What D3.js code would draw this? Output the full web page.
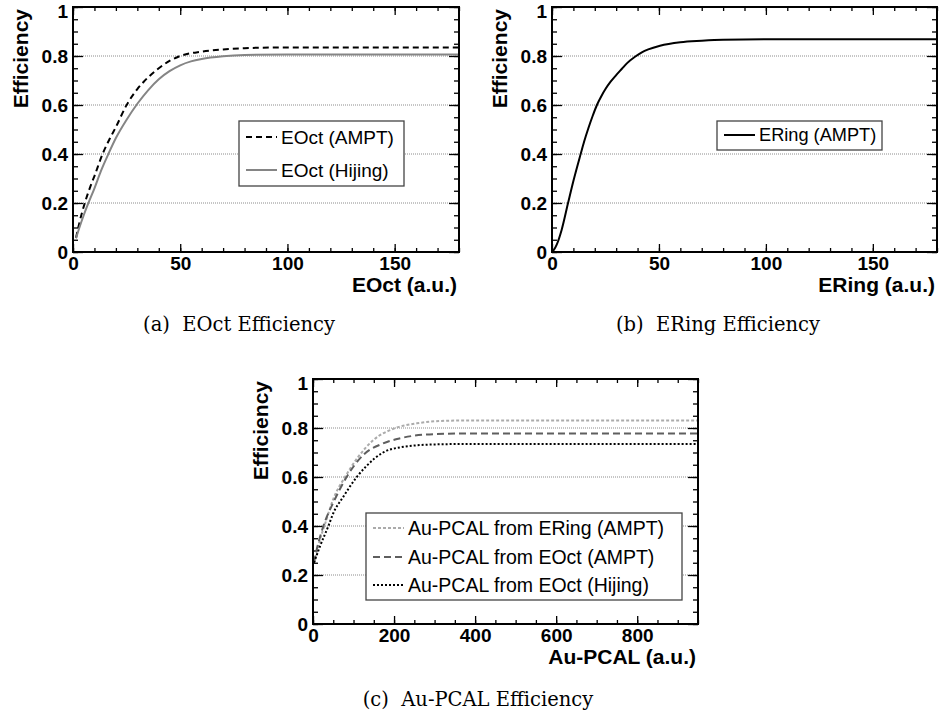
<!DOCTYPE html>
<html>
<head>
<meta charset="utf-8">
<script src="https://cdn.jsdelivr.net/npm/d3@7"></script>
<style>
  body { margin: 0; background: #fff; }
  svg { display: block; }
  .tick text { font-family: "Liberation Sans", Arial, sans-serif; font-weight: bold; font-size: 19px; fill: #000; }
  .axis-title { font-family: "Liberation Sans", Arial, sans-serif; font-weight: bold; font-size: 21px; }
  .legend text { font-family: "Liberation Sans", Arial, sans-serif; }
  .caption { font-family: "DejaVu Serif", serif; font-size: 19.5px; }
</style>
</head>
<body>
<div id="chart"></div>
<script>
// ---- data ----
// (a) EOct efficiency
var eoctAmptX = [1.4, 3, 5.5, 8, 10, 13.8, 17, 20, 25, 30, 33, 40, 45, 50, 60, 70, 80, 100, 140, 180];
var eoctAmptY = [0.057, 0.12, 0.20, 0.265, 0.31, 0.40, 0.46, 0.51, 0.60, 0.665, 0.695, 0.75, 0.78, 0.80, 0.818, 0.827, 0.832, 0.835, 0.835, 0.835];
var eoctHijingX = [1.4, 3, 5, 7.2, 10, 13, 16.5, 20, 25, 30, 35, 40, 45, 50, 55, 60, 70, 80, 100, 140, 180];
var eoctHijingY = [0.056, 0.10, 0.15, 0.20, 0.26, 0.33, 0.40, 0.465, 0.54, 0.605, 0.66, 0.705, 0.738, 0.762, 0.778, 0.788, 0.799, 0.804, 0.806, 0.806, 0.806];

// (b) ERing efficiency
var eringX = [0, 1, 2.2, 4.5, 7.5, 10, 13.4, 15, 17, 19, 21, 23, 25, 27.4, 30, 32.6, 35, 38.8, 42, 45, 50.5, 60, 70, 80, 100, 140, 180];
var eringY = [0.0, 0.01, 0.03, 0.09, 0.2, 0.29, 0.4, 0.45, 0.505, 0.555, 0.6, 0.635, 0.665, 0.695, 0.722, 0.747, 0.77, 0.797, 0.815, 0.827, 0.842, 0.856, 0.862, 0.866, 0.868, 0.868, 0.868];

// (c) Au-PCAL efficiency
var pcalEringX = [2.5, 10, 20, 30, 50, 79, 112, 149, 202, 256, 338, 500, 700, 950];
var pcalEringY = [0.25, 0.30, 0.36, 0.41, 0.51, 0.60, 0.683, 0.751, 0.799, 0.819, 0.83, 0.831, 0.831, 0.831];
var pcalEoctX = [2.5, 10, 20, 30, 50, 83, 124, 173, 215, 297, 400, 600, 950];
var pcalEoctY = [0.25, 0.31, 0.37, 0.42, 0.495, 0.60, 0.69, 0.737, 0.758, 0.775, 0.778, 0.778, 0.778];
var pcalHijingX = [2.5, 17, 38, 50, 75, 108, 132, 173, 215, 300, 400, 950];
var pcalHijingY = [0.25, 0.316, 0.40, 0.452, 0.52, 0.60, 0.645, 0.70, 0.721, 0.733, 0.735, 0.735];

var yTicks = [0, 0.2, 0.4, 0.6, 0.8, 1];
var gridValues = [0.2, 0.4, 0.6, 0.8];

var svg = d3.select("#chart")
    .append("svg")
    .attr("width", 940)
    .attr("height", 723);

function zip(xs, ys) {
    return xs.map(function (x, i) { return { x: x, y: ys[i] }; });
}

// One ROOT-style frame with ticks inside, dotted grid, curves and legend
function drawPanel(p) {
    var width = p.right - p.left,
        height = p.bottom - p.top;

    var g = svg.append("g")
        .attr("transform", "translate(" + p.left + "," + p.top + ")");

    var x = d3.scaleLinear().domain(p.xDomain).range([0, width]);
    var y = d3.scaleLinear().domain([0, 1]).range([height, 0]);

    // grid
    g.selectAll(".grid")
        .data(gridValues)
        .join("line")
        .attr("x1", 0)
        .attr("x2", width)
        .attr("y1", d => y(d))
        .attr("y2", d => y(d))
        .attr("stroke", "#8c8c8c")
        .attr("stroke-width", 1)
        .attr("stroke-dasharray", "1,1");

    var xMinor = d3.range(p.xDomain[0], p.xDomain[1] + 0.001, p.xMinor);
    var xMajor = d3.range(p.xDomain[0], p.xDomain[1] + 0.001, p.xMajor);
    var yMinor = d3.range(0, 1.001, 0.05);

    // minor ticks
    g.append("g").attr("transform", "translate(0," + height + ")")
        .call(d3.axisBottom(x).tickValues(xMinor).tickSize(-4).tickFormat(""));
    g.append("g")
        .call(d3.axisTop(x).tickValues(xMinor).tickSize(-4).tickFormat(""));
    g.append("g")
        .call(d3.axisLeft(y).tickValues(yMinor).tickSize(-5).tickFormat(""));
    g.append("g").attr("transform", "translate(" + width + ",0)")
        .call(d3.axisRight(y).tickValues(yMinor).tickSize(-5).tickFormat(""));

    // major ticks + labels
    g.append("g").attr("transform", "translate(0," + height + ")")
        .call(d3.axisBottom(x).tickValues(xMajor).tickSize(-8).tickPadding(5).tickFormat(d3.format("d")));
    g.append("g")
        .call(d3.axisTop(x).tickValues(xMajor).tickSize(-8).tickFormat(""));
    var yAxis = g.append("g")
        .call(d3.axisLeft(y).tickValues(yTicks).tickSize(-10).tickPadding(5).tickFormat(d3.format("~g")));
    g.append("g").attr("transform", "translate(" + width + ",0)")
        .call(d3.axisRight(y).tickValues(yTicks).tickSize(-10).tickFormat(""));

    // ROOT pushes the top label inside a little
    yAxis.selectAll(".tick text").filter(d => d === 1).attr("y", 4);

    g.selectAll(".domain").remove();
    g.selectAll(".tick line").attr("stroke", "#000").attr("stroke-width", 1.3);

    // curves
    var line = d3.line()
        .x(d => x(d.x))
        .y(d => y(d.y))
        .curve(d3.curveMonotoneX);

    p.series.forEach(function (s) {
        g.append("path")
            .datum(zip(s.xs, s.ys))
            .attr("fill", "none")
            .attr("stroke", s.color)
            .attr("stroke-width", 2)
            .attr("stroke-dasharray", s.dash)
            .attr("d", line);
    });

    // frame
    g.append("rect")
        .attr("width", width)
        .attr("height", height)
        .attr("fill", "none")
        .attr("stroke", "#000")
        .attr("stroke-width", 2);

    // legend
    var lg = svg.append("g").attr("class", "legend");
    lg.append("rect")
        .attr("x", p.legend.x0)
        .attr("y", p.legend.y0)
        .attr("width", p.legend.x1 - p.legend.x0)
        .attr("height", p.legend.y1 - p.legend.y0)
        .attr("fill", "#fff")
        .attr("stroke", "#444")
        .attr("stroke-width", 1.3);
    p.series.forEach(function (s, i) {
        var ry = p.legend.rows[i];
        lg.append("line")
            .attr("x1", p.legend.x0 + 7)
            .attr("x2", p.legend.x0 + 38)
            .attr("y1", ry)
            .attr("y2", ry)
            .attr("stroke", s.color)
            .attr("stroke-width", 2)
            .attr("stroke-dasharray", s.dash);
        lg.append("text")
            .attr("x", p.legend.x0 + 42)
            .attr("y", ry)
            .attr("dy", "0.35em")
            .style("font-size", p.legend.fontSize + "px")
            .text(s.name);
    });

    // axis titles
    svg.append("text")
        .attr("class", "axis-title")
        .attr("x", p.right - 2)
        .attr("y", p.bottom + 40)
        .attr("text-anchor", "end")
        .text(p.xTitle);

    svg.append("text")
        .attr("class", "axis-title")
        .attr("transform", "translate(" + (p.left - 45) + "," + (p.top + 2) + ") rotate(-90)")
        .attr("text-anchor", "end")
        .text("Efficiency");

    // caption
    svg.append("text")
        .attr("class", "caption")
        .attr("x", p.captionX)
        .attr("y", p.captionY)
        .attr("text-anchor", "middle")
        .attr("xml:space", "preserve")
        .text(p.caption);
}

drawPanel({
    left: 73, right: 459, top: 7, bottom: 252,
    xDomain: [0, 180], xMajor: 50, xMinor: 10,
    xTitle: "EOct (a.u.)",
    caption: "(a)  EOct Efficiency", captionX: 239, captionY: 331,
    series: [
        { name: "EOct (AMPT)", xs: eoctAmptX, ys: eoctAmptY, color: "#000", dash: "6,4" },
        { name: "EOct (Hijing)", xs: eoctHijingX, ys: eoctHijingY, color: "#858585", dash: null }
    ],
    legend: { x0: 239, x1: 404, y0: 121, y1: 186, rows: [137, 170], fontSize: 19 }
});

drawPanel({
    left: 552, right: 937, top: 7, bottom: 252,
    xDomain: [0, 180], xMajor: 50, xMinor: 10,
    xTitle: "ERing (a.u.)",
    caption: "(b)  ERing Efficiency", captionX: 718, captionY: 331,
    series: [
        { name: "ERing (AMPT)", xs: eringX, ys: eringY, color: "#000", dash: null }
    ],
    legend: { x0: 717, x1: 882, y0: 121, y1: 150, rows: [135], fontSize: 18.2 }
});

drawPanel({
    left: 313, right: 698, top: 379, bottom: 624,
    xDomain: [0, 950], xMajor: 200, xMinor: 50,
    xTitle: "Au-PCAL (a.u.)",
    caption: "(c)  Au-PCAL Efficiency", captionX: 478, captionY: 706,
    series: [
        { name: "Au-PCAL from ERing (AMPT)", xs: pcalEringX, ys: pcalEringY, color: "#ababab", dash: "3,2" },
        { name: "Au-PCAL from EOct (AMPT)", xs: pcalEoctX, ys: pcalEoctY, color: "#5e5e5e", dash: "7,4" },
        { name: "Au-PCAL from EOct (Hijing)", xs: pcalHijingX, ys: pcalHijingY, color: "#000", dash: "2,2" }
    ],
    legend: { x0: 366, x1: 682, y0: 513, y1: 600, rows: [528, 557, 585], fontSize: 19.5 }
});
</script>
</body>
</html>
